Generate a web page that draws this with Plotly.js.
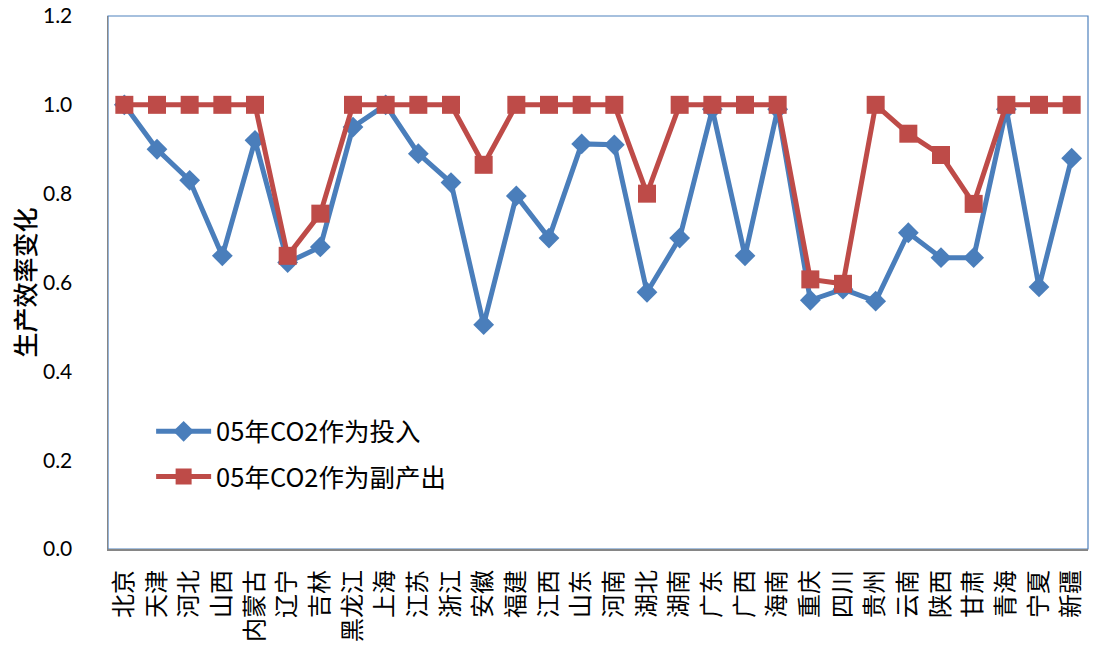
<!DOCTYPE html>
<html>
<head>
<meta charset="utf-8">
<script src="https://cdn.plot.ly/plotly-3.0.1.min.js"></script>
<style>html,body{margin:0;padding:0;background:#fff;}#chart{width:1093px;height:648px;}</style>
</head>
<body>
<div id="chart"></div>
<script>
const provinces = ["北京","天津","河北","山西","内蒙古","辽宁","吉林","黑龙江","上海","江苏","浙江","安徽","福建","江西","山东","河南","湖北","湖南","广东","广西","海南","重庆","四川","贵州","云南","陕西","甘肃","青海","宁夏","新疆"];
const co2Input = [1.0,0.90,0.83,0.66,0.92,0.645,0.68,0.95,1.0,0.89,0.825,0.505,0.795,0.70,0.912,0.91,0.578,0.70,0.99,0.66,0.99,0.56,0.585,0.558,0.712,0.656,0.656,0.99,0.59,0.88];
const co2Byproduct = [1.0,1.0,1.0,1.0,1.0,0.66,0.755,1.0,1.0,1.0,1.0,0.865,1.0,1.0,1.0,1.0,0.80,1.0,1.0,1.0,1.0,0.607,0.597,1.0,0.935,0.887,0.777,1.0,1.0,1.0];
const seriesNames = ["05年CO2作为投入","05年CO2作为副产出"];
const yTicks = [0,0.2,0.4,0.6,0.8,1.0,1.2];

const traces = [
  {x: provinces, y: co2Input, name: seriesNames[0], type: 'scatter', mode: 'lines+markers',
   line: {color: '#4A7EBB', width: 5}, marker: {symbol: 'diamond', size: 16, color: '#4A7EBB'}, legend: 'legend'},
  {x: provinces, y: co2Byproduct, name: seriesNames[1], type: 'scatter', mode: 'lines+markers',
   line: {color: '#BE4B48', width: 5}, marker: {symbol: 'square', size: 18, color: '#BE4B48'}, legend: 'legend2'}
];

const legendCommon = {font: {family: 'Noto Sans CJK SC, sans-serif', size: 25.5, color: '#000'}, bgcolor: 'rgba(0,0,0,0)', itemwidth: 55, xanchor: 'left', yanchor: 'middle'};

const layout = {
  width: 1093, height: 648,
  margin: {l: 108, r: 5, t: 16, b: 99},
  paper_bgcolor: '#fff', plot_bgcolor: '#fff',
  showlegend: true,
  legend: Object.assign({x: 0.044, y: 0.22}, legendCommon),
  legend2: Object.assign({x: 0.044, y: 0.135}, legendCommon),
  xaxis: {
    type: 'category', tickangle: -90, showgrid: false, zeroline: false,
    showline: true, linecolor: '#868686', linewidth: 1.5, ticks: '',
    tickfont: {family: 'Noto Sans CJK SC, sans-serif', size: 24, color: '#000'},
    ticklabelstandoff: 10,
    range: [-0.5, provinces.length - 0.5]
  },
  yaxis: {
    range: [0, 1.2], tickvals: yTicks, ticktext: yTicks.map(v => v.toFixed(1)),
    showgrid: false, zeroline: false, showline: true, linecolor: '#868686', linewidth: 1.5, ticks: '',
    tickfont: {family: 'Lato, Open Sans, sans-serif', size: 21, color: '#000'},
    ticklabelstandoff: 30,
    title: {text: '生产效率变化', font: {family: 'Noto Sans CJK SC, sans-serif', size: 25, color: '#000', weight: 500}, standoff: 0}
  },
  shapes: [{type: 'rect', xref: 'paper', yref: 'paper', x0: 0, x1: 1, y0: 0, y1: 1, line: {color: '#4F81BD', width: 1.2}, layer: 'below'}]
};

Plotly.newPlot('chart', traces, layout, {displayModeBar: false, staticPlot: true});
</script>
</body>
</html>
